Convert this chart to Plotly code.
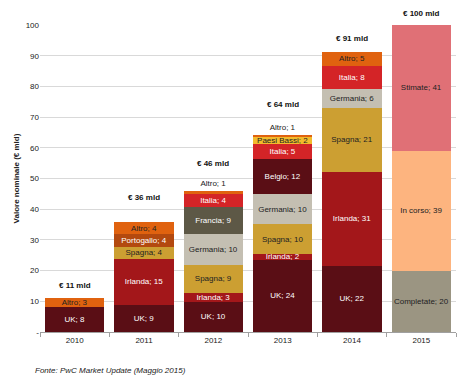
import plotly.graph_objects as go

years = ["2010", "2011", "2012", "2013", "2014", "2015"]

# series values per year (None = not present)
uk          = [8.0, 8.9, 9.9, 23.6, 21.6, None]
irlanda     = [None, 15.0, 2.9, 1.8, 30.6, None]
spagna      = [None, 3.9, 9.0, 9.7, 20.8, None]
germania    = [None, None, 10.0, 9.7, 6.1, None]
francia     = [None, None, 9.0, None, None, None]
belgio      = [None, None, None, 11.6, None, None]
portogallo  = [None, 4.1, None, None, None, None]
italia      = [None, None, 4.2, 4.7, 7.6, None]
paesi_bassi = [None, None, None, 2.3, None, None]
altro       = [3.0, 3.9, 0.9, 0.8, 4.6, None]
completate  = [None, None, None, None, None, 19.9]
in_corso    = [None, None, None, None, None, 39.1]
stimate     = [None, None, None, None, None, 41.0]

totals_text = ["€ 11 mld", "€ 36 mld", "€ 46 mld", "€ 64 mld", "€ 91 mld", "€ 100 mld"]
y_ticks = [0, 10, 20, 30, 40, 50, 60, 70, 80, 90, 100]
y_ticktext = ["-", "10", "20", "30", "40", "50", "60", "70", "80", "90", "100"]

series = [
    ("UK", uk, "#5A0E15", "white"),
    ("Irlanda", irlanda, "#A3171A", "white"),
    ("Spagna", spagna, "#CC9F32", "#222222"),
    ("Germania", germania, "#C4BFB2", "#222222"),
    ("Francia", francia, "#5D5846", "white"),
    ("Belgio", belgio, "#5A0E15", "white"),
    ("Portogallo", portogallo, "#B3490F", "white"),
    ("Italia", italia, "#D42427", "white"),
    ("Paesi Bassi", paesi_bassi, "#F2BB2C", "#222222"),
    ("Altro", altro, "#E0620F", "#222222"),
    ("Completate", completate, "#9B9582", "#222222"),
    ("In corso", in_corso, "#FDB47F", "#222222"),
    ("Stimate", stimate, "#E07076", "#222222"),
]

FONT = "Liberation Sans Narrow, Arial Narrow, Liberation Sans, Arial, sans-serif"
Y_MAX = 100

fig = go.Figure()
for name, vals, color, tcolor in series:
    texts = [f"{name}; {round(v)}" if v is not None else "" for v in vals]
    positions = []
    for i, v in enumerate(vals):
        if v is not None and v < 1.5 and name == "Altro":
            positions.append("outside")
        else:
            positions.append("inside")
    fig.add_trace(go.Bar(
        x=years, y=vals, name=name,
        marker=dict(color=color, line=dict(width=0)),
        text=texts, textposition=positions,
        insidetextanchor="middle", textangle=0,
        constraintext="none", cliponaxis=False,
        insidetextfont=dict(color=tcolor, size=8, family=FONT),
        outsidetextfont=dict(color="#222222", size=8, family=FONT),
        hoverinfo="x+y+name",
    ))

# totals above each bar
sums = []
for i in range(len(years)):
    s = sum(v[i] for _, v, _, _ in series if v[i] is not None)
    sums.append(s)
label_offsets = [4.3, 8.0, 9.0, 10.0, 4.4, 3.9]
for i, yr in enumerate(years):
    fig.add_annotation(x=i, xref="x", yref="paper", y=(sums[i] + label_offsets[i]) / Y_MAX,
                       text=f"<b>{totals_text[i]}</b>",
                       showarrow=False, font=dict(size=8, family=FONT, color="#111111"),
                       yanchor="middle")

fig.add_annotation(xref="paper", yref="paper", x=-0.017, y=-0.124, xanchor="left", yanchor="middle",
                   text="<i>Fonte: PwC Market Update (Maggio 2015)</i>", showarrow=False,
                   font=dict(size=8, family=FONT, color="#222222"))

# page body has an 8px default margin: shrink the figure to compensate
fig.update_layout(
    barmode="stack",
    bargap=0.14,
    width=459, height=378,
    margin=dict(l=32, r=11, t=17, b=54, autoexpand=False),
    paper_bgcolor="white", plot_bgcolor="white",
    showlegend=False,
    uniformtext=dict(minsize=8, mode="show"),
    font=dict(family=FONT, size=8, color="#222222"),
    xaxis=dict(
        type="category", range=[-0.5, len(years) - 0.5], automargin=False,
        showgrid=False, showline=True, linecolor="#A0A0A0", linewidth=1,
        ticks="outside", tickson="boundaries", ticklen=4, tickcolor="#A0A0A0",
        tickfont=dict(size=8, family=FONT, color="#222222"),
    ),
    yaxis=dict(
        range=[0, Y_MAX], tickvals=y_ticks, ticktext=y_ticktext, automargin=False,
        showgrid=True, gridcolor="#D9D9D9", gridwidth=1,
        showline=False, zeroline=False, ticks="",
        tickfont=dict(size=8, family=FONT, color="#222222"),
        title=dict(text="<b>Valore nominale (€ mld)</b>", font=dict(size=8, family=FONT), standoff=4),
    ),
)

fig.write_html("out.html")
